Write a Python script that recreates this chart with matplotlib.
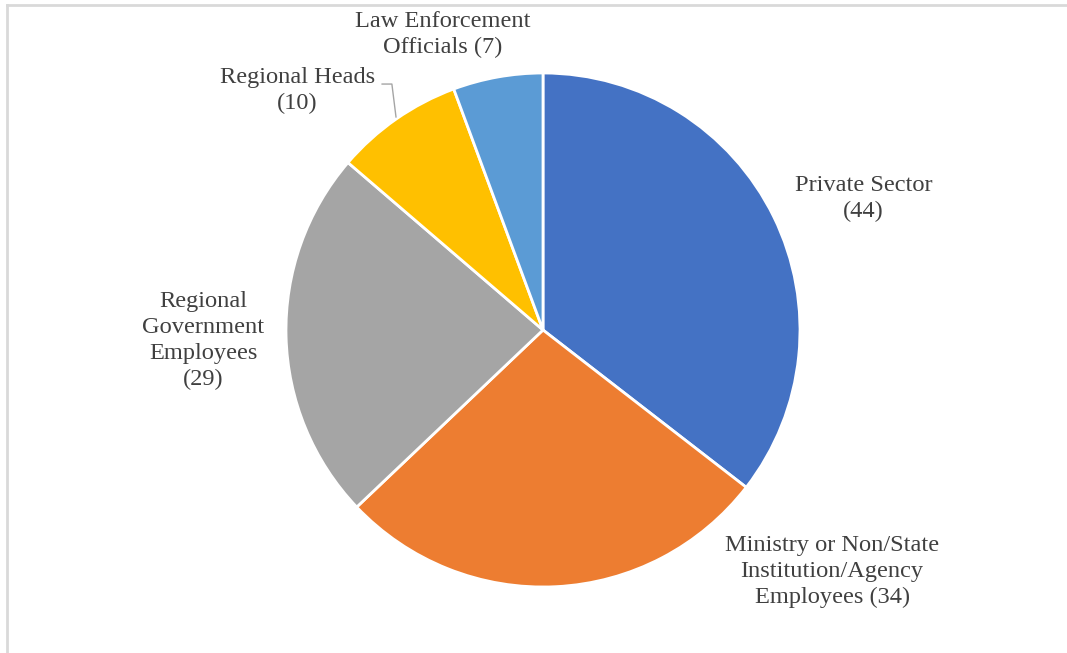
import matplotlib
matplotlib.use('Agg')
from matplotlib import pyplot as plt
from matplotlib.lines import Line2D

labels = ['Private Sector', 'Ministry or Non/State\nInstitution/Agency\nEmployees',
          'Regional\nGovernment\nEmployees', 'Regional Heads', 'Law Enforcement\nOfficials']
values = [44, 34, 29, 10, 7]
colors = ['#4472C4', '#ED7D31', '#A5A5A5', '#FFC000', '#5B9BD5']

# label text positions around the pie (data units, pie radius = 1)
label_pos = [(1.247, 0.51), (1.125, -0.94), (-1.323, -0.04), (-0.955, 0.93), (-0.39, 1.15)]
label_text = [f'{n}\n({v})' if i in (0, 2, 3) else f'{n} ({v})'
              for i, (n, v) in enumerate(zip(labels, values))]

plt.rcParams['font.family'] = ['Liberation Serif', 'DejaVu Serif']

fig = plt.figure(figsize=(10.67, 6.53), dpi=100)
ax = fig.add_axes([286 / 1067, 66 / 653, 514 / 1067, 514 / 653])

ax.pie(values, colors=colors, startangle=90, counterclock=False,
       wedgeprops=dict(edgecolor='white', linewidth=2))
ax.set_xlim(-1, 1)
ax.set_ylim(-1, 1)
ax.set_aspect('equal')

for (x, y), t in zip(label_pos, label_text):
    ax.text(x, y, t, ha='center', va='center', fontsize=17.6, color='#404040',
            linespacing=1.3, clip_on=False)

# leader line for the small "Regional Heads" slice
ax.add_line(Line2D([-0.626, -0.588, -0.572], [0.957, 0.957, 0.829],
                   color='#A5A5A5', linewidth=1, clip_on=False))

# frame edges along top and left
fig.add_artist(Line2D([7 / 1067, 1], [1 - 5 / 653, 1 - 5 / 653], color='#D9D9D9', linewidth=2))
fig.add_artist(Line2D([7 / 1067, 7 / 1067], [0, 1 - 5 / 653], color='#D9D9D9', linewidth=2))

plt.savefig('out.png', dpi=100)
